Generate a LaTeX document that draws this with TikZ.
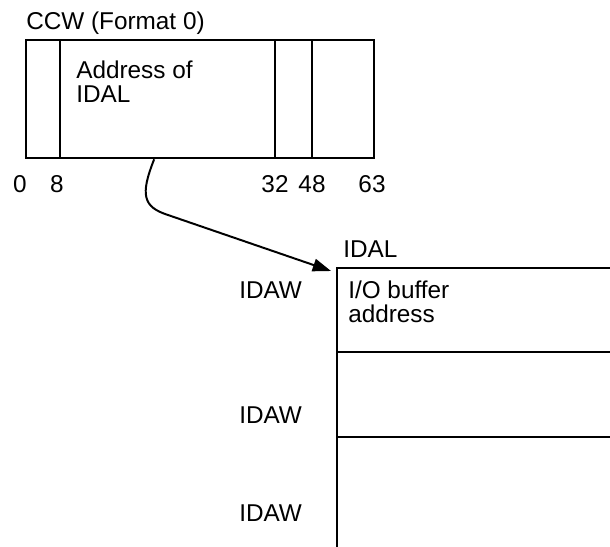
\documentclass[tikz,border=0pt]{standalone}
\usepackage{fontspec}
\setmainfont{Liberation Sans}
\usetikzlibrary{arrows.meta}

\begin{document}
\begin{tikzpicture}[
  x=0.025cm, y=-0.025cm,
  field/.style={line width=1.6pt},
  lbl/.style={font=\fontsize{17.3}{17}\selectfont, inner sep=0pt},
  arrow/.style={-{Triangle[length=13pt, width=9pt]}, line width=1.4pt},
]
\useasboundingbox (0,0) rectangle (610,546);

% CCW
\node[lbl, anchor=base west] (ccwtitle) at (26,29) {CCW (Format 0)};
\node[draw, field, anchor=north west, inner sep=0pt, minimum width=8.7cm, minimum height=2.95cm] (ccw) at (25,39) {};
\draw[field] (60,39) -- (60,157);
\draw[field] (275,39) -- (275,157);
\draw[field] (312,39) -- (312,157);
\node[lbl, anchor=north west, align=left] (addr) at (76,61) {Address of\\IDAL};

% Bit positions
\node[lbl, anchor=base] (b0) at (20,192) {0};
\node[lbl, anchor=base] (b8) at (57,192) {8};
\node[lbl, anchor=base] (b32) at (275,192) {32};
\node[lbl, anchor=base] (b48) at (312,192) {48};
\node[lbl, anchor=base] (b63) at (372,192) {63};

% IDAL
\node[lbl, anchor=base west] (idaltitle) at (343,257) {IDAL};
\draw[field] (612,268) -- (337,268) -- (337,548);
\draw[field] (337,352) -- (612,352);
\draw[field] (337,437) -- (612,437);
\coordinate (idal) at (331,271);
\node[lbl, anchor=north west, align=left] (iobuf) at (348,281) {I/O buffer\\address};

\node[lbl, anchor=base west] (idaw1) at (239,298) {IDAW};
\node[lbl, anchor=base west] (idaw2) at (239,423) {IDAW};
\node[lbl, anchor=base west] (idaw3) at (239,521) {IDAW};

% Pointer
\draw[arrow] ([xshift=-1.15cm]ccw.south) .. controls (140,195) and (143,207) .. (168,215) -- (idal);
\end{tikzpicture}
\end{document}
